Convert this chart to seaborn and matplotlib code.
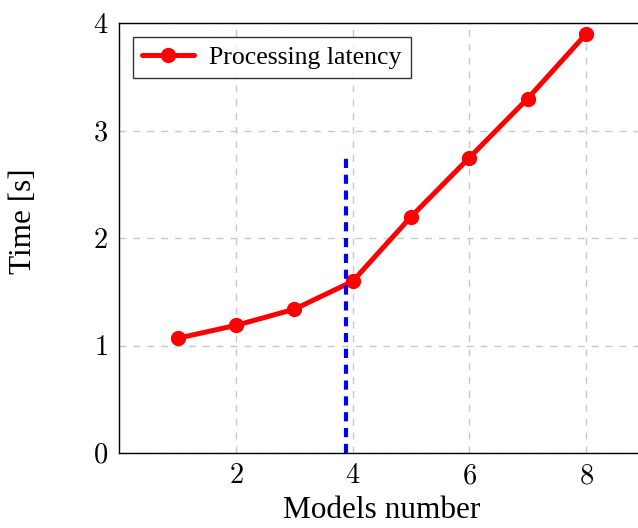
import matplotlib
matplotlib.use("Agg")
import matplotlib.pyplot as plt
import seaborn as sns
import pandas as pd

models = [1, 2, 3, 4, 5, 6, 7, 8]
latency = [1.07, 1.19, 1.34, 1.60, 2.20, 2.75, 3.30, 3.90]
threshold_x = [3.89, 3.89]
threshold_y = [0.0, 2.75]
x_ticks = [2, 4, 6, 8]
y_ticks = [0, 1, 2, 3, 4]
series_name = "Processing latency"

sns.set_theme(style="white")
plt.rcParams['font.family'] = ['Liberation Serif', 'DejaVu Serif']
plt.rcParams['mathtext.fontset'] = 'cm'
plt.rcParams['text.color'] = 'black'
plt.rcParams['axes.labelcolor'] = 'black'
plt.rcParams['xtick.labelcolor'] = 'black'
plt.rcParams['ytick.labelcolor'] = 'black'

fig = plt.figure(figsize=(6.38, 5.28), dpi=100)
ax = fig.add_axes([0.187, 0.1415, 0.823, 0.8144])

df = pd.DataFrame({"Models number": models, "Time": latency, "series": series_name})
sns.lineplot(data=df, x="Models number", y="Time", hue="series", palette=["#ff0000"],
             marker="o", markersize=11, markeredgewidth=0, linewidth=3.6, ax=ax)
ax.plot(threshold_x, threshold_y, color="#0000ff", linewidth=3.0, linestyle=(0, (2.2, 1.6)))

ax.set_xlim(0, 9)
ax.set_ylim(0, 4)
ax.set_xticks(x_ticks)
ax.set_yticks(y_ticks)
ax.set_xticklabels([f"${v}$" for v in x_ticks], fontsize=20.5)
ax.set_yticklabels([f"${v}$" for v in y_ticks], fontsize=20.5)
ax.tick_params(axis="both", direction="in", length=5, width=1, color="#808080", pad=8)
ax.grid(True, color="#c8c8c8", linestyle=(0, (5, 5)), linewidth=1)
ax.set_axisbelow(True)
for s in ax.spines.values():
    s.set_color("black")
    s.set_linewidth(1)

ax.set_xlabel("Models number", fontsize=22.5, labelpad=5)
ax.set_ylabel("Time [s]", fontsize=22.5)
ax.yaxis.set_label_coords(-0.155, 0.54)

leg = ax.legend(loc="upper left", fontsize=18.5, frameon=True, fancybox=False,
                borderaxespad=0.55, handlelength=2.0, handletextpad=0.6,
                borderpad=0.35, title=None)
leg.get_frame().set_edgecolor("black")
leg.get_frame().set_linewidth(1)

fig.savefig("out.png", dpi=100)
